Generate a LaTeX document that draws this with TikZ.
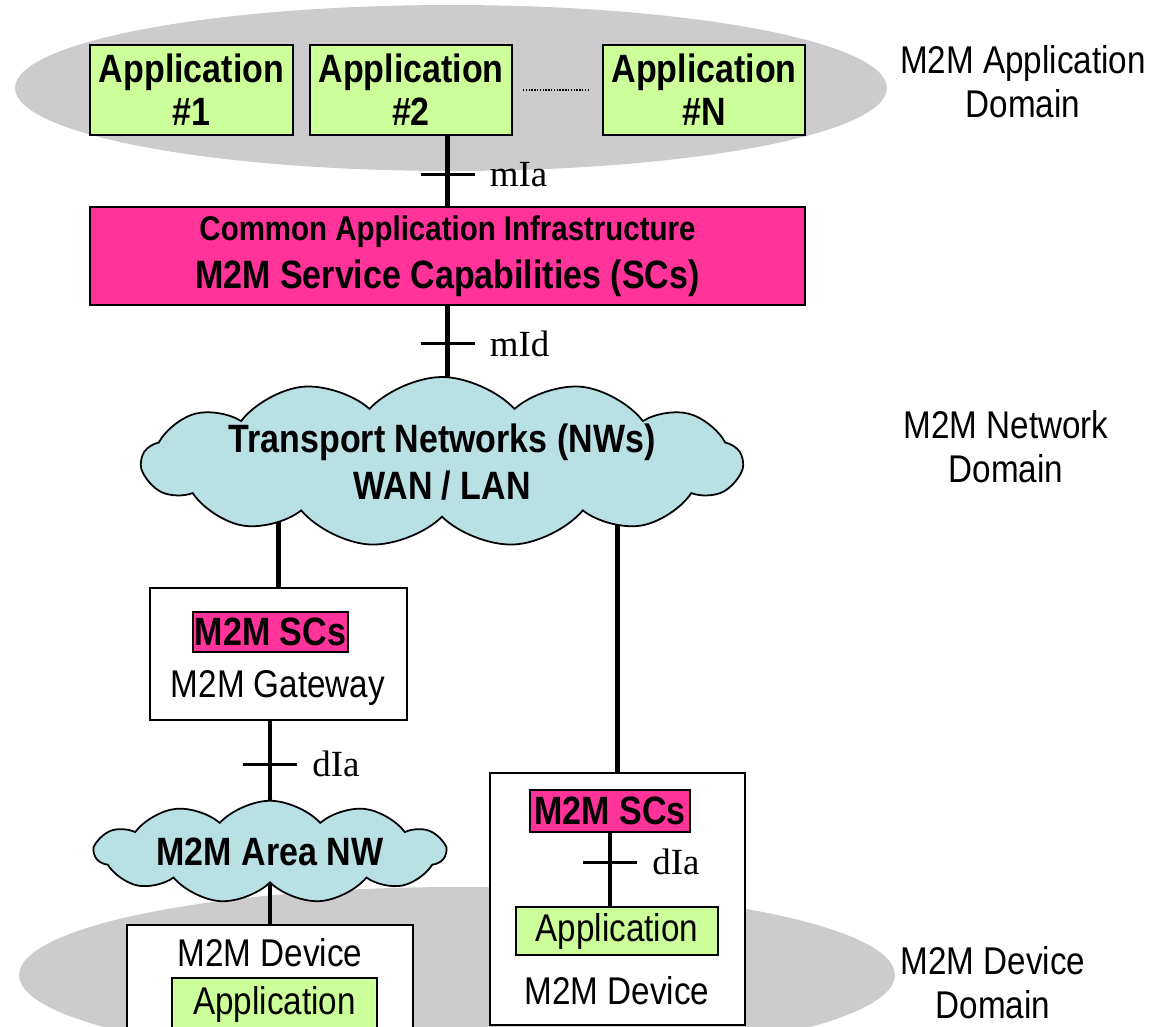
\documentclass[tikz,border=0pt]{standalone}
\usepackage{fontspec}
\setmainfont{Liberation Sans}
\newfontfamily\condsf[FakeStretch=0.86]{Liberation Sans}
\newfontfamily\serifrm{Liberation Serif}
\usetikzlibrary{calc,shapes.symbols,backgrounds}
\definecolor{appgreen}{HTML}{CCFF99}
\definecolor{scpink}{HTML}{FF3399}
\definecolor{nwcyan}{HTML}{B9E0E3}
\definecolor{domaingray}{HTML}{CCCCCC}
\tikzset{
  boldtxt/.style={font=\condsf\bfseries\fontsize{22.5}{24.5}\selectfont},
  lighttxt/.style={font=\condsf\fontsize{22}{25}\selectfont, align=center},
  appbox/.style={draw, line width=1.1pt, fill=appgreen, inner sep=0pt, align=center},
  scbox/.style={draw, line width=1.1pt, fill=scpink, inner sep=0pt, align=center, boldtxt},
  hostbox/.style={draw, line width=1.1pt, fill=white, inner sep=0pt},
  nwcloud/.style={cloud, cloud ignores aspect, cloud puffs=12, cloud puff arc=95, draw, line width=1pt, fill=nwcyan, inner sep=0pt, align=center, boldtxt},
  iface/.style={font=\serifrm\fontsize{21}{24}\selectfont, anchor=west, inner sep=0pt, xshift=0.28cm},
  link/.style={line width=2.8pt},
  tickmark/.style={line width=1.7pt},
}

\begin{document}
\begin{tikzpicture}[x=0.02cm,y=-0.02cm]
            \useasboundingbox (0,0) rectangle (1169,1027);
            \clip (0,0) rectangle (1169,1027);
            \node[appbox, boldtxt, minimum width=4.06cm, minimum height=1.8cm] (app1) at (191.5,90) {Application\\\#1};
            \node[appbox, boldtxt, minimum width=4.04cm, minimum height=1.8cm] (app2) at (411,90) {Application\\\#2};
            \node[appbox, boldtxt, minimum width=4.04cm, minimum height=1.8cm] (appN) at (704,90) {Application\\\#N};
            \node[scbox, font=\condsf\bfseries\fontsize{22.5}{27}\selectfont, minimum width=14.3cm, minimum height=1.96cm] (cai) at (447.5,256) {{\fontsize{19.5}{27}\selectfont Common Application Infrastructure}\\M2M Service Capabilities (SCs)};
            \node[nwcloud, cloud puffs=13, minimum width=12.0cm, minimum height=3.4cm, font=\condsf\bfseries\fontsize{22.5}{27}\selectfont] (nw) at (442,462) {Transport Networks (NWs)\\WAN / LAN};
            \node[hostbox, minimum width=5.14cm, minimum height=2.64cm] (gw) at (278.5,654) {};
            \node[scbox, minimum width=3.1cm, minimum height=0.8cm] (sc1) at (270.5,632) {M2M SCs};
            \node[lighttxt] (gwtxt) at (278,688) {M2M Gateway};
            \node[nwcloud, cloud puffs=11, minimum width=7.0cm, minimum height=2.05cm] (area) at (270,852) {M2M Area NW};
            \node[hostbox, minimum width=5.72cm, minimum height=2.7cm] (dev1) at (270,992.5) {};
            \node[lighttxt] (dev1txt) at (270,953) {M2M Device};
            \node[appbox, lighttxt, minimum width=4.1cm, minimum height=1.04cm] (app4) at (274.5,1004) {Application};
            \node[hostbox, minimum width=5.1cm, minimum height=5.04cm] (dev2) at (617.5,899) {};
            \node[scbox, minimum width=3.2cm, minimum height=0.84cm] (sc2) at (610,811) {M2M SCs};
            \node[appbox, lighttxt, minimum width=4.04cm, minimum height=0.96cm] (app3) at (617,931) {Application};
            \node[lighttxt] (dev2txt) at (617,991) {M2M Device};
            \node[lighttxt] (appdom) at (1023,82) {M2M Application\\Domain};
            \node[lighttxt] (nwdom) at (1006,447) {M2M Network\\Domain};
            \node[lighttxt] (devdom) at (993,983) {M2M Device\\Domain};
            \draw[line width=0.8pt, dash pattern=on 0.8pt off 0.8pt, shorten <=0.2cm, shorten >=0.26cm] (app2) -- (appN);
            \draw[link] (sc2.south) -- coordinate[pos=0.4] (dia2) (app3.north -| sc2.south);
            \begin{scope}[on background layer]
                \clip (0,0) rectangle (1169,1027);
                \fill[domaingray] (451,88) ellipse [x radius=8.72cm, y radius=1.66cm];
                \fill[domaingray] (457,975) ellipse [x radius=8.76cm, y radius=1.76cm];
                \draw[link] (app2.south -| cai.north) -- coordinate[pos=0.55] (mia) (cai.north);
                \draw[link] (cai.south) -- coordinate[pos=0.24] (mid) (cai.south |- nw.center);
                \draw[link] (gw.north) -- (gw.north |- nw.center);
                \draw[link] (dev2.north) -- (dev2.north |- nw.center);
                \draw[link] (gw.south -| area.center) -- coordinate[pos=0.33] (dia1) (area.center);
                \draw[link] (dev1.north) -- (dev1.north |- area.center);
            \end{scope}
            \draw[tickmark] ([xshift=-0.54cm]mia) -- ([xshift=0.54cm]mia) node[iface] {mIa};
            \draw[tickmark] ([xshift=-0.54cm]mid) -- ([xshift=0.54cm]mid) node[iface] {mId};
            \draw[tickmark] ([xshift=-0.54cm]dia1) -- ([xshift=0.54cm]dia1) node[iface] {dIa};
            \draw[tickmark] ([xshift=-0.54cm]dia2) -- ([xshift=0.54cm]dia2) node[iface] {dIa};
        \end{tikzpicture}
\end{document}
